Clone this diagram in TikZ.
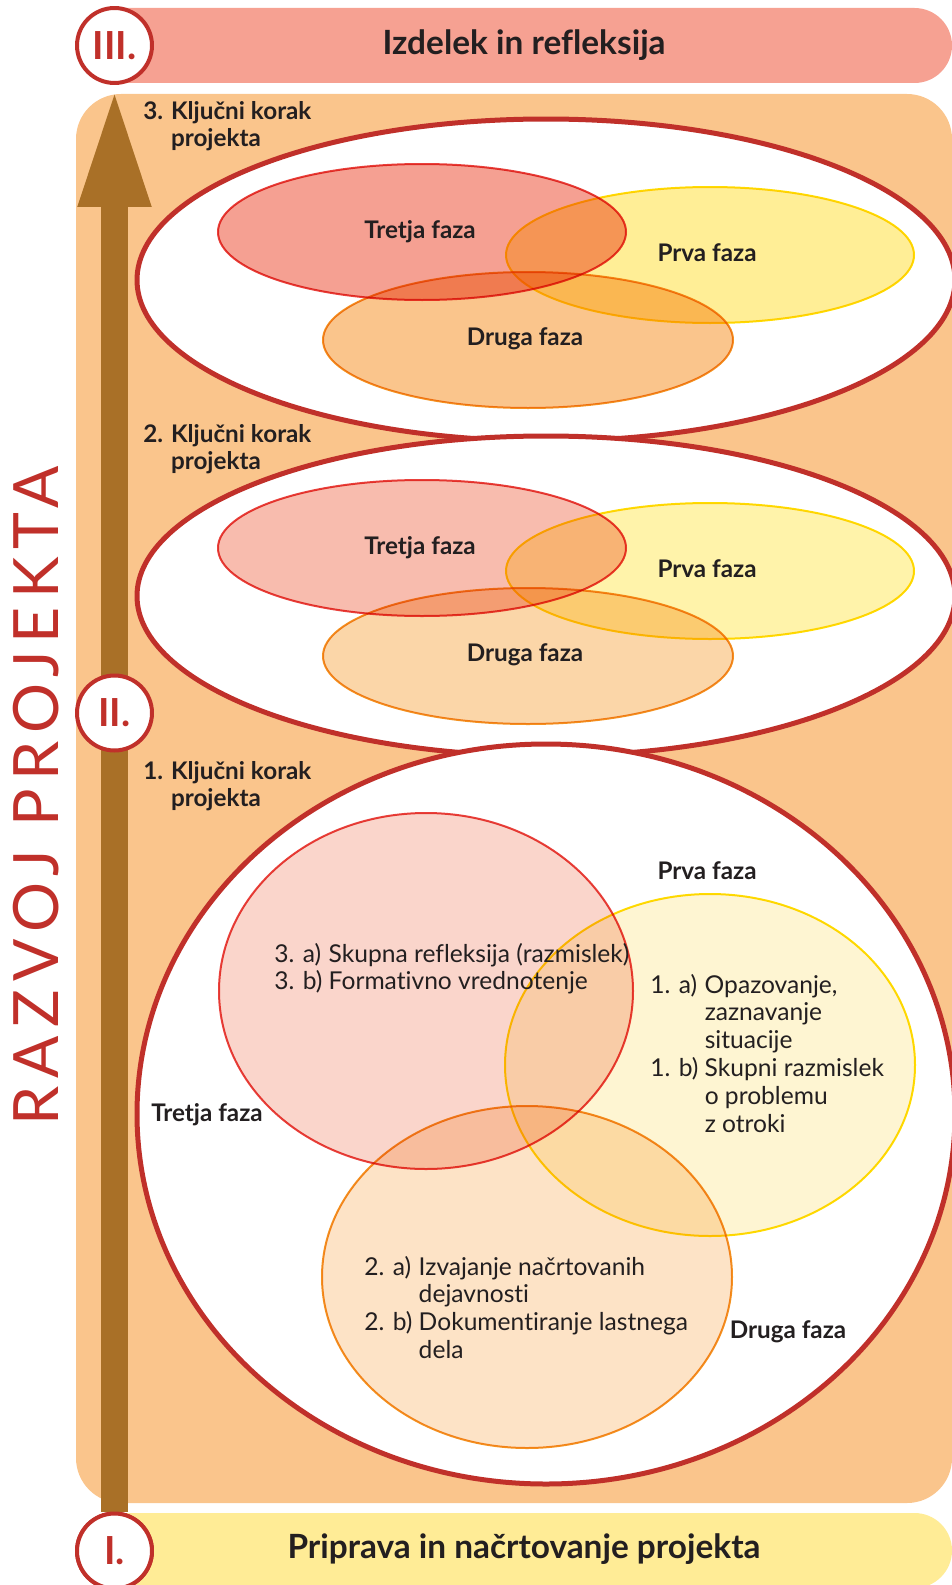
\documentclass[tikz,border=0pt]{standalone}
\usepackage{fontspec}
\setmainfont{Lato}[Ligatures=NoCommon]
\newfontfamily\spacedfont[LetterSpace=13]{Lato}
\usetikzlibrary{arrows.meta}
\definecolor{darkred}{RGB}{192,48,42}
\definecolor{ink}{RGB}{35,31,32}
\definecolor{topbar}{RGB}{246,161,146}
\definecolor{panel}{RGB}{250,197,140}
\definecolor{basebar}{RGB}{255,236,150}
\definecolor{shaft}{RGB}{169,112,39}
\definecolor{tretjaline}{RGB}{233,65,60}
\definecolor{prvaline}{RGB}{255,221,0}
\definecolor{drugaline}{RGB}{244,146,32}
% fills for the three key steps
\definecolor{tretjaA}{RGB}{245,160,146}
\definecolor{prvaA}{RGB}{255,238,150}
\definecolor{drugaA}{RGB}{250,197,140}
\definecolor{tretjaB}{RGB}{248,188,174}
\definecolor{prvaB}{RGB}{255,243,170}
\definecolor{drugaB}{RGB}{251,214,168}
\definecolor{tretjaC}{RGB}{250,213,203}
\definecolor{prvaC}{RGB}{254,245,210}
\definecolor{drugaC}{RGB}{253,227,198}

\begin{document}
\begin{tikzpicture}[x=0.02cm, y=-0.02cm,
% common options for the numbered circles:
stepcircle/.style = {circle, draw=darkred, line width=0.08cm, fill=white,
            minimum size=1.5cm, inner sep=0, text=darkred,
            font=\fontsize{22}{22}\selectfont\bfseries},
% common options for the key step ellipses:
keystep/.style = {draw=darkred, line width=0.1cm, fill=white},
% common options for the phase ellipses:
phaseline/.style = {line width=0.04cm},
% common options for texts:
phase/.style = {text=ink, inner sep=0, font=\fontsize{13.8}{15}\selectfont\bfseries},
steplabel/.style = {text=ink, inner sep=0, anchor=base west,
            font=\fontsize{13.8}{15.9}\selectfont\bfseries},
body/.style = {text=ink, inner sep=0, anchor=base west,
            font=\fontsize{14}{15.9}\selectfont},
bartitle/.style = {text=ink, font=\fontsize{19}{22}\selectfont\bfseries},
progress/.style = {draw=shaft, line width=0.54cm,
            -{Triangle[width=1.3cm, length=2.44cm]}}]
\useasboundingbox (0,0) rectangle (952,1585);

% bars and panel
\fill[topbar] (114,8) -- (914.5,8) arc[start angle=-90, end angle=90, radius=37.5]
   -- (114,83) -- cycle;
\fill[panel, rounded corners=0.9cm] (76,94) rectangle (952,1503);
\fill[basebar] (114,1513) -- (914.5,1513) arc[start angle=-90, end angle=90, radius=37.5]
   -- (114,1588) -- cycle;

\node[stepcircle] (I) at (114.5,1551) {I.};
\node[stepcircle] (III) at (114.5,45.5) {III.};
\draw[progress] (I.north) -- (III.south);
\node[stepcircle] (II) at (114.5,713) {II.};
\node[stepcircle] at (114.5,1551) {I.};

\node[bartitle] (izdelek) at (524,45) {Izdelek in refleksija};
\node[bartitle] (priprava) at (524,1549) {Priprava in načrtovanje projekta};
\node[text=darkred, rotate=90, font=\fontsize{35.6}{36}\spacedfont] (razvoj)
   at (36,796) {RAZVOJ PROJEKTA};

% 3. key step
\draw[keystep] (546,280) ellipse [x radius=409, y radius=161];
\begin{scope}[blend mode=multiply]
\draw[phaseline, draw=tretjaline, fill=tretjaA] (422,232) ellipse [x radius=204, y radius=68];
\draw[phaseline, draw=prvaline, fill=prvaA] (710,255) ellipse [x radius=204, y radius=68];
\draw[phaseline, draw=drugaline, fill=drugaA] (528,340) ellipse [x radius=205, y radius=68];
\end{scope}
\node[phase] (T3) at (420,232) {Tretja faza};
\node[phase] (P3) at (707,253) {Prva faza};
\node[phase] (D3) at (525,339) {Druga faza};

% 2. key step
\draw[keystep] (546,596) ellipse [x radius=409, y radius=160];
\begin{scope}[blend mode=multiply]
\draw[phaseline, draw=tretjaline, fill=tretjaB] (422,548) ellipse [x radius=204, y radius=68];
\draw[phaseline, draw=prvaline, fill=prvaB] (710,571) ellipse [x radius=204, y radius=68];
\draw[phaseline, draw=drugaline, fill=drugaB] (528,656) ellipse [x radius=205, y radius=68];
\end{scope}
\node[phase] (T2) at (420,548) {Tretja faza};
\node[phase] (P2) at (707,569) {Prva faza};
\node[phase] (D2) at (525,655) {Druga faza};

% 1. key step
\draw[keystep] (546,1114) ellipse [x radius=409, y radius=370];
\begin{scope}[blend mode=multiply]
\draw[phaseline, draw=tretjaline, fill=tretjaC] (426,991) ellipse [x radius=207, y radius=178];
\draw[phaseline, draw=prvaline, fill=prvaC] (710,1065) ellipse [x radius=205, y radius=171];
\draw[phaseline, draw=drugaline, fill=drugaC] (527,1277) ellipse [x radius=205, y radius=171];
\end{scope}
\node[phase] (P1) at (707,871) {Prva faza};
\node[phase] (T1) at (207,1115) {Tretja faza};
\node[phase] (D1) at (788,1332) {Druga faza};

\node[steplabel] (K3) at (143,119) {\begin{tabular}[t]{@{}l@{ }l@{}}3.& Ključni korak\\ & projekta\end{tabular}};
\node[steplabel] (K2) at (143,442) {\begin{tabular}[t]{@{}l@{ }l@{}}2.& Ključni korak\\ & projekta\end{tabular}};
\node[steplabel] (K1) at (143,779) {\begin{tabular}[t]{@{}l@{ }l@{}}1.& Ključni korak\\ & projekta\end{tabular}};

\node[body] (A3) at (274,962) {\begin{tabular}[t]{@{}l@{ }l@{}}3. a)& Skupna refleksija (razmislek)\\
   3. b)& Formativno vrednotenje\end{tabular}};
\node[body] (A1) at (650,993) {\begin{tabular}[t]{@{}l@{ }l@{}}1. a)& Opazovanje,\\ & zaznavanje\\ & situacije\\
   1. b)& Skupni razmislek\\ & o problemu\\ & z otroki\end{tabular}};
\node[body] (A2) at (364,1275) {\begin{tabular}[t]{@{}l@{ }l@{}}2. a)& Izvajanje načrtovanih\\ & dejavnosti\\
   2. b)& Dokumentiranje lastnega\\ & dela\end{tabular}};
\end{tikzpicture}
\end{document}
